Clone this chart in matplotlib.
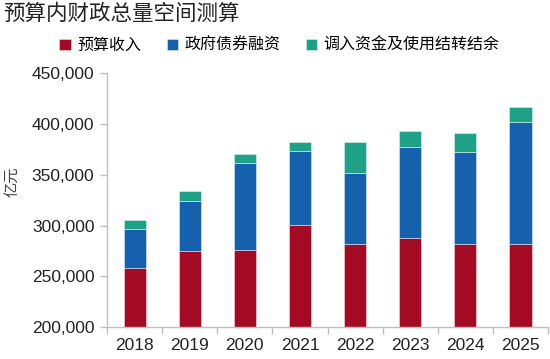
import matplotlib.pyplot as plt
import numpy as np
from matplotlib.ticker import FuncFormatter, FixedLocator

plt.rcParams['font.family'] = ['Noto Sans CJK SC', 'DejaVu Sans']

# data (亿元)
years = ['2018', '2019', '2020', '2021', '2022', '2023', '2024', '2025']
revenue = [258800, 274600, 276200, 300900, 281500, 287400, 281500, 282400]
bonds = [37500, 49700, 85800, 72300, 70700, 90400, 90700, 119400]
carryover = [9500, 9800, 8900, 9300, 30500, 15500, 19400, 15200]

names = ['预算收入', '政府债券融资', '调入资金及使用结转结余']
colors = ['#A50A24', '#1561AE', '#1FA187']

fig = plt.figure(figsize=(5.5, 3.59), dpi=100)
ax = fig.add_axes([0.1945, 0.0883, 0.802, 0.708])

x = np.arange(len(years))
w = 0.4
rev = np.array(revenue)
bnd = np.array(bonds)
car = np.array(carryover)

# stack from the 200,000 axis floor
base = 200000
ax.bar(x, rev - base, w, bottom=base, color=colors[0], label=names[0],
       edgecolor='#f2dede', linewidth=0.4)
ax.bar(x, bnd, w, bottom=rev, color=colors[1], label=names[1],
       edgecolor='#dde8f5', linewidth=0.4)
ax.bar(x, car, w, bottom=rev + bnd, color=colors[2], label=names[2],
       edgecolor='#ddf2ec', linewidth=0.4)

ax.set_ylim(200000, 450000)
ax.set_xlim(-0.5, len(years) - 0.5)
ax.set_yticks(np.arange(200000, 450001, 50000))
ax.yaxis.set_major_formatter(FuncFormatter(lambda v, p: f'{int(v):,}'))
ax.set_xticks(x)
ax.set_xticklabels(years)
ax.xaxis.set_minor_locator(FixedLocator(np.arange(-0.5, len(years), 1)))

for lab in ax.get_xticklabels() + ax.get_yticklabels():
    lab.set_family(['Liberation Sans', 'DejaVu Sans'])
    lab.set_fontsize(12.5)
    lab.set_color('#222222')

ax.tick_params(axis='x', which='major', length=0, pad=8)
ax.tick_params(axis='x', which='minor', length=5, color='#BFBFBF', width=1)
ax.tick_params(axis='y', length=5, color='#BFBFBF', width=1, pad=4)

for s in ['top', 'right']:
    ax.spines[s].set_visible(False)
for s in ['left', 'bottom']:
    ax.spines[s].set_color('#BFBFBF')
    ax.spines[s].set_linewidth(1)

fig.text(0.022, 0.495, '亿元', rotation=90, fontsize=11, color='#444444',
         ha='center', va='center')

fig.text(0.005, 0.96, '预算内财政总量空间测算', fontsize=15.5, color='#222222',
         ha='left', va='center')

fig.legend(loc='center', bbox_to_anchor=(0.508, 0.874), ncol=3, frameon=False,
           fontsize=11.5, handlelength=0.7, handleheight=0.7, handletextpad=0.4,
           columnspacing=1.6, borderaxespad=0)

fig.savefig('out.png', dpi=100)
